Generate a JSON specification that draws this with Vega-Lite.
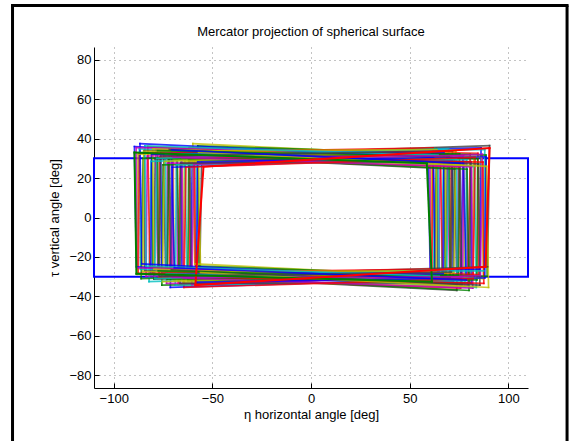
{
 "$schema": "https://vega.github.io/schema/vega-lite/v6.json",
 "width": 434,
 "height": 341,
 "autosize": {"type": "none"},
 "padding": {"left": 94, "top": 47, "right": 47, "bottom": 53},
 "background": "white",
 "title": {"text": "Mercator projection of spherical surface", "font": "Liberation Sans", "fontSize": 13, "fontWeight": "normal", "color": "black", "offset": -46, "baseline": "alphabetic"},
 "config": {
  "view": {"stroke": null},
  "axis": {"domainColor": "black", "domainWidth": 1, "tickColor": "black", "tickSize": -5, "labelFont": "Liberation Sans", "labelFontSize": 13, "labelColor": "black", "titleFont": "Liberation Sans", "titleFontSize": 13, "titleFontWeight": "normal", "titleColor": "black", "gridColor": "#555", "gridDash": [1, 4], "gridOpacity": 0.7, "grid": true}
 },
 "datasets": {
  "box": [{"x1": -110, "x2": 110, "y1": -30, "y2": 30}],
  "poly": [
   {"c":0,"a":-89.5,"b":-88.5,"p":59.5,"q":60.5,"e":36,"f":29,"g":-25,"h":-32.5},
   {"c":1,"a":-75.0,"b":-75.6,"p":72.7,"q":72.1,"e":26.7,"f":29.3,"g":-34.3,"h":-32.2},
   {"c":2,"a":-61.8,"b":-61.4,"p":84.6,"q":85.0,"e":35.4,"f":32.6,"g":-25.6,"h":-28.9},
   {"c":3,"a":-81.1,"b":-82.1,"p":67.2,"q":66.2,"e":28.5,"f":33.5,"g":-32.5,"h":-28},
   {"c":4,"a":-68.2,"b":-67.6,"p":78.8,"q":79.4,"e":31.8,"f":27.2,"g":-29.2,"h":-34.3},
   {"c":5,"a":-87.7,"b":-88.1,"p":61.2,"q":60.8,"e":32.1,"f":32.9,"g":-28.9,"h":-28.6},
   {"c":6,"a":-74.7,"b":-73.7,"p":72.9,"q":73.9,"e":31.5,"f":24.5,"g":-29.5,"h":-37},
   {"c":0,"a":-60.2,"b":-60.8,"p":86.2,"q":85.6,"e":32.7,"f":35.3,"g":-28.3,"h":-26.2},
   {"c":1,"a":-80.7,"b":-80.3,"p":67.6,"q":68.0,"e":32.4,"f":29.6,"g":-28.6,"h":-31.9},
   {"c":2,"a":-66.3,"b":-67.3,"p":80.7,"q":79.7,"e":27,"f":32,"g":-34,"h":-29.5},
   {"c":3,"a":-87.0,"b":-86.4,"p":61.8,"q":62.4,"e":34.8,"f":30.2,"g":-26.2,"h":-31.3},
   {"c":4,"a":-72.8,"b":-73.2,"p":74.7,"q":74.3,"e":27.6,"f":28.4,"g":-33.4,"h":-33.1},
   {"c":5,"a":-59.9,"b":-58.9,"p":86.4,"q":87.4,"e":37.5,"f":30.5,"g":-23.5,"h":-31},
   {"c":6,"a":-79.0,"b":-79.6,"p":69.1,"q":68.5,"e":29.7,"f":32.3,"g":-31.3,"h":-29.2},
   {"c":0,"a":-65.8,"b":-65.4,"p":81.0,"q":81.4,"e":30.9,"f":28.1,"g":-30.1,"h":-33.4},
   {"c":1,"a":-85.1,"b":-86.1,"p":63.6,"q":62.6,"e":30,"f":35,"g":-31,"h":-26.5},
   {"c":2,"a":-72.2,"b":-71.6,"p":75.2,"q":75.8,"e":30.3,"f":25.7,"g":-30.7,"h":-35.8},
   {"c":3,"a":-58.0,"b":-58.4,"p":88.1,"q":87.7,"e":33.6,"f":34.4,"g":-27.4,"h":-27.1},
   {"c":4,"a":-78.7,"b":-77.7,"p":69.3,"q":70.3,"e":34.5,"f":27.5,"g":-26.5,"h":-34},
   {"c":5,"a":-64.2,"b":-64.8,"p":82.5,"q":81.9,"e":28.2,"f":30.8,"g":-32.8,"h":-30.7},
   {"c":6,"a":-84.6,"b":-84.2,"p":63.9,"q":64.3,"e":33.9,"f":31.1,"g":-27.1,"h":-30.4},
   {"c":0,"a":-70.3,"b":-71.3,"p":77.0,"q":76.0,"e":25.5,"f":30.5,"g":-35.5,"h":-31},
   {"c":1,"a":-57.4,"b":-56.8,"p":88.7,"q":89.3,"e":36.3,"f":31.7,"g":-24.7,"h":-29.8},
   {"c":2,"a":-76.8,"b":-77.2,"p":71.1,"q":70.7,"e":30.6,"f":31.4,"g":-30.4,"h":-30.1},
   {"c":3,"a":-63.9,"b":-62.9,"p":82.8,"q":83.8,"e":33,"f":26,"g":-28,"h":-35.5},
   {"c":4,"a":-83.0,"b":-83.6,"p":65.5,"q":64.9,"e":31.2,"f":33.8,"g":-29.8,"h":-27.7},
   {"c":5,"a":-69.8,"b":-69.4,"p":77.4,"q":77.8,"e":29.4,"f":26.6,"g":-31.6,"h":-34.9},
   {"c":6,"a":-55.4,"b":-56.4,"p":90.5,"q":89.5,"e":31.5,"f":36.5,"g":-29.5,"h":-25},
   {"c":0,"a":-76.2,"b":-75.6,"p":71.6,"q":72.2,"e":33.3,"f":28.7,"g":-27.7,"h":-32.8},
   {"c":1,"a":-62.0,"b":-62.4,"p":84.5,"q":84.1,"e":29.1,"f":29.9,"g":-31.9,"h":-31.6},
   {"c":2,"a":-82.7,"b":-81.7,"p":65.7,"q":66.7,"e":36,"f":29,"g":-25,"h":-32.5},
   {"c":3,"a":-68.2,"b":-68.8,"p":78.9,"q":78.3,"e":26.7,"f":29.3,"g":-34.3,"h":-32.2},
   {"c":4,"a":-88.6,"b":-88.2,"p":60.3,"q":60.7,"e":35.4,"f":32.6,"g":-25.6,"h":-28.9},
   {"c":5,"a":-74.3,"b":-75.3,"p":73.4,"q":72.4,"e":28.5,"f":33.5,"g":-32.5,"h":-28},
   {"c":6,"a":-61.4,"b":-60.8,"p":85.0,"q":85.6,"e":31.8,"f":27.2,"g":-29.2,"h":-34.3},
   {"c":0,"a":-80.8,"b":-81.2,"p":67.4,"q":67.0,"e":32.1,"f":32.9,"g":-28.9,"h":-28.6},
   {"c":1,"a":-67.8,"b":-66.8,"p":79.1,"q":80.1,"e":31.5,"f":24.5,"g":-29.5,"h":-37},
   {"c":2,"a":-87.0,"b":-87.6,"p":61.9,"q":61.3,"e":32.7,"f":35.3,"g":-28.3,"h":-26.2},
   {"c":3,"a":-73.8,"b":-73.4,"p":73.8,"q":74.2,"e":32.4,"f":29.6,"g":-28.6,"h":-31.9},
   {"c":4,"a":-59.4,"b":-60.4,"p":86.9,"q":85.9,"e":27,"f":32,"g":-34,"h":-29.5},
   {"c":5,"a":-80.2,"b":-79.6,"p":68.0,"q":68.6,"e":34.8,"f":30.2,"g":-26.2,"h":-31.3},
   {"c":6,"a":-66.0,"b":-66.4,"p":80.9,"q":80.5,"e":27.6,"f":28.4,"g":-33.4,"h":-33.1},
   {"c":0,"a":-86.7,"b":-85.7,"p":62.1,"q":63.1,"e":37.5,"f":30.5,"g":-23.5,"h":-31},
   {"c":1,"a":-72.2,"b":-72.8,"p":75.3,"q":74.7,"e":29.7,"f":32.3,"g":-31.3,"h":-29.2},
   {"c":2,"a":-59.0,"b":-58.6,"p":87.2,"q":87.6,"e":30.9,"f":28.1,"g":-30.1,"h":-33.4},
   {"c":3,"a":-78.2,"b":-79.2,"p":69.8,"q":68.8,"e":30,"f":35,"g":-31,"h":-26.5},
   {"c":4,"a":-65.4,"b":-64.8,"p":81.4,"q":82.0,"e":30.3,"f":25.7,"g":-30.7,"h":-35.8},
   {"c":5,"a":-84.8,"b":-85.2,"p":63.8,"q":63.4,"e":33.6,"f":34.4,"g":-27.4,"h":-27.1},
   {"c":6,"a":-71.8,"b":-70.8,"p":75.5,"q":76.5,"e":34.5,"f":27.5,"g":-26.5,"h":-34},
   {"c":0,"a":-57.4,"b":-58.0,"p":88.7,"q":88.1,"e":28.2,"f":30.8,"g":-32.8,"h":-30.7},
   {"c":1,"a":-77.8,"b":-77.4,"p":70.1,"q":70.5,"e":33.9,"f":31.1,"g":-27.1,"h":-30.4},
   {"c":2,"a":-63.4,"b":-64.4,"p":83.2,"q":82.2,"e":25.5,"f":30.5,"g":-35.5,"h":-31},
   {"c":3,"a":-84.2,"b":-83.6,"p":64.4,"q":65.0,"e":36.3,"f":31.7,"g":-24.7,"h":-29.8},
   {"c":4,"a":-70.0,"b":-70.4,"p":77.3,"q":76.9,"e":30.6,"f":31.4,"g":-30.4,"h":-30.1},
   {"c":5,"a":-57.0,"b":-56.0,"p":89.0,"q":90.0,"e":33,"f":26,"g":-28,"h":-35.5},
   {"c":6,"a":-76.2,"b":-76.8,"p":71.7,"q":71.1,"e":31.2,"f":33.8,"g":-29.8,"h":-27.7},
   {"c":0,"a":-70.7,"b":-69.3,"p":77.3,"q":78.7,"e":34.3,"f":27.5,"g":-25.5,"h":-31.8}
  ],
  "last": [
   {"c":1,"a":-89.5,"b":-88.5,"p":58.7,"q":61.3,"e":33,"f":27.5,"g":-28.5,"h":-32.6},
   {"c":2,"a":-54.5,"b":-58.6,"p":90.5,"q":88.5,"e":25.8,"f":35.2,"g":-34.3,"h":-25}
  ]
 },
 "layer": [
  {
   "data": {"name": "box"},
   "mark": {"type": "rect", "fill": "white", "fillOpacity": 0, "stroke": "#0000ff", "strokeWidth": 2},
   "encoding": {
    "x": {"field": "x1", "type": "quantitative", "scale": {"domain": [-110, 110], "nice": false, "zero": false}, "axis": {"title": "η horizontal angle [deg]", "values": [-100, -50, 0, 50, 100], "labelPadding": 9, "titlePadding": 3}},
    "x2": {"field": "x2"},
    "y": {"field": "y1", "type": "quantitative", "scale": {"domain": [-86.5, 86.5], "nice": false, "zero": false}, "axis": {"title": "τ vertical angle [deg]", "values": [-80, -60, -40, -20, 0, 20, 40, 60, 80], "labelPadding": 8, "titlePadding": 7}},
    "y2": {"field": "y2"}
   }
  },
  {
   "data": {"name": "poly"},
   "mark": {"type": "rule", "strokeWidth": 1.7, "strokeCap": "square", "opacity": 0.8},
   "encoding": {
    "x": {"field": "a", "type": "quantitative"}, "y": {"field": "e", "type": "quantitative"},
    "x2": {"field": "b"}, "y2": {"field": "g"},
    "color": {"field": "c", "type": "nominal", "legend": null, "scale": {"domain": [0, 1, 2, 3, 4, 5, 6], "range": ["#0000ff", "#008000", "#ff0000", "#00bfbf", "#bf00bf", "#bfbf00", "#404040"]}}
   }
  },
  {
   "data": {"name": "poly"},
   "mark": {"type": "rule", "strokeWidth": 1.7, "strokeCap": "square", "opacity": 0.8},
   "encoding": {
    "x": {"field": "p", "type": "quantitative"}, "y": {"field": "f", "type": "quantitative"},
    "x2": {"field": "q"}, "y2": {"field": "h"},
    "color": {"field": "c", "type": "nominal", "legend": null}
   }
  },
  {
   "data": {"name": "poly"},
   "mark": {"type": "rule", "strokeWidth": 1.7, "strokeCap": "square", "opacity": 0.8},
   "encoding": {
    "x": {"field": "a", "type": "quantitative"}, "y": {"field": "e", "type": "quantitative"},
    "x2": {"field": "p"}, "y2": {"field": "f"},
    "color": {"field": "c", "type": "nominal", "legend": null}
   }
  },
  {
   "data": {"name": "poly"},
   "mark": {"type": "rule", "strokeWidth": 1.7, "strokeCap": "square", "opacity": 0.8},
   "encoding": {
    "x": {"field": "b", "type": "quantitative"}, "y": {"field": "g", "type": "quantitative"},
    "x2": {"field": "q"}, "y2": {"field": "h"},
    "color": {"field": "c", "type": "nominal", "legend": null}
   }
  },
  {
   "data": {"name": "last"},
   "mark": {"type": "rule", "strokeWidth": 2, "strokeCap": "square"},
   "encoding": {
    "x": {"field": "a", "type": "quantitative"}, "y": {"field": "e", "type": "quantitative"},
    "x2": {"field": "b"}, "y2": {"field": "g"},
    "color": {"field": "c", "type": "nominal", "legend": null}
   }
  },
  {
   "data": {"name": "last"},
   "mark": {"type": "rule", "strokeWidth": 2, "strokeCap": "square"},
   "encoding": {
    "x": {"field": "p", "type": "quantitative"}, "y": {"field": "f", "type": "quantitative"},
    "x2": {"field": "q"}, "y2": {"field": "h"},
    "color": {"field": "c", "type": "nominal", "legend": null}
   }
  },
  {
   "data": {"name": "last"},
   "mark": {"type": "rule", "strokeWidth": 2, "strokeCap": "square"},
   "encoding": {
    "x": {"field": "a", "type": "quantitative"}, "y": {"field": "e", "type": "quantitative"},
    "x2": {"field": "p"}, "y2": {"field": "f"},
    "color": {"field": "c", "type": "nominal", "legend": null}
   }
  },
  {
   "data": {"name": "last"},
   "mark": {"type": "rule", "strokeWidth": 2, "strokeCap": "square"},
   "encoding": {
    "x": {"field": "b", "type": "quantitative"}, "y": {"field": "g", "type": "quantitative"},
    "x2": {"field": "q"}, "y2": {"field": "h"},
    "color": {"field": "c", "type": "nominal", "legend": null}
   }
  },
  {
   "data": {"values": [{}]},
   "mark": {"type": "rule", "color": "black", "strokeWidth": 3},
   "encoding": {"x": {"datum": -151.3}, "y": {"datum": 107.5}, "y2": {"datum": -140}}
  },
  {
   "data": {"values": [{}]},
   "mark": {"type": "rule", "color": "black", "strokeWidth": 3},
   "encoding": {"x": {"datum": 129.8}, "y": {"datum": 107.5}, "y2": {"datum": -140}}
  },
  {
   "data": {"values": [{}]},
   "mark": {"type": "rule", "color": "black", "strokeWidth": 3, "strokeCap": "square"},
   "encoding": {"x": {"datum": -151.3}, "x2": {"datum": 129.8}, "y": {"datum": 107.5}}
  }
 ]
}
